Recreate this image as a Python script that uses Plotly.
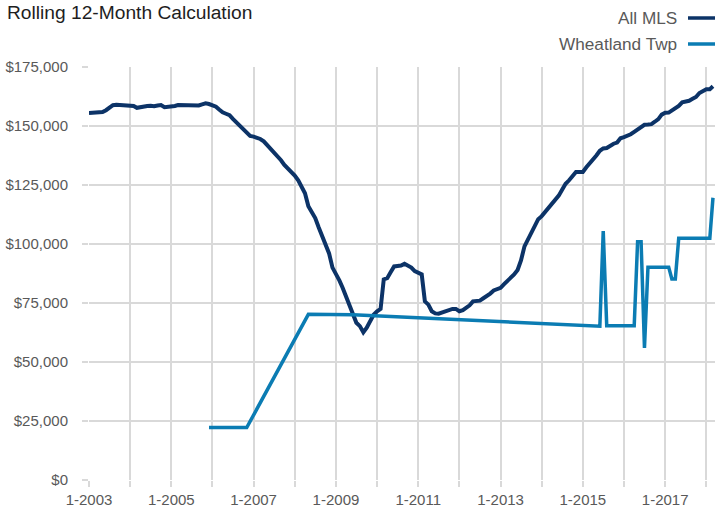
import pandas as pd
import plotly.graph_objects as go

# ---------------- data ----------------
start_month = "2003-01-01"
all_mls = [
    155.5, 155.5, 155.6, 155.7, 155.9, 156.7, 157.8, 158.8, 159.0, 158.9, 158.8, 158.9,  # 2003
    158.9, 158.5, 157.7, 158.0, 158.6, 158.5, 158.6, 158.4, 158.7, 158.9, 158.0, 158.1,  # 2004
    158.3, 158.5, 158.9, 158.9, 158.8, 158.9, 158.7, 158.6, 158.7, 159.2, 159.6, 159.3,  # 2005
    158.9, 158.2, 157.0, 155.8, 155.2, 154.6, 153.0, 151.5, 150.2, 148.6, 147.0, 145.8,  # 2006
    145.5, 145.0, 144.5, 143.5, 142.0, 140.5, 139.0, 137.0, 135.5, 133.5, 132.0, 130.8,  # 2007
    129.0, 127.0, 124.0, 121.5, 116.0, 113.5, 111.0, 107.0, 103.0, 100.0, 96.0, 90.0,    # 2008
    87.5, 84.5, 81.5, 77.5, 74.5, 70.5, 66.6, 65.2, 62.6, 64.5, 67.5, 70.0,             # 2009
    71.5, 72.5, 85.0, 85.5, 88.0, 90.5, 90.7, 90.9, 91.6, 91.0, 90.0, 88.5,             # 2010
    88.0, 87.1, 75.7, 74.3, 71.5, 70.6, 70.5, 71.0, 71.8, 72.3, 72.5, 72.5,             # 2011
    71.5, 72.0, 72.9, 74.0, 75.7, 75.9, 76.0, 77.0, 77.9, 79.0, 80.3, 80.9,             # 2012
    81.4, 83.0, 84.2, 85.5, 87.1, 89.0, 93.0, 99.0, 101.9, 105.5, 108.5, 110.5,         # 2013
    111.8, 113.5, 115.5, 117.0, 118.5, 120.5, 123.0, 125.5, 127.0, 128.5, 130.5, 130.5, # 2014
    130.5, 132.5, 134.0, 135.5, 137.5, 139.5, 140.5, 140.7, 141.8, 142.5, 143.0, 144.8, # 2015
    145.3, 145.8, 146.5, 147.5, 148.5, 149.3, 150.5, 150.6, 150.8, 151.8, 152.9, 154.8, # 2016
    155.6, 155.7, 156.5, 157.5, 158.5, 160.0, 160.3, 160.7, 161.5, 162.3, 164.0, 165.0, # 2017
    165.6, 165.6, 166.8,                                                                 # 2018
]
all_mls = [v * 1000 for v in all_mls]
all_mls_dates = pd.date_range(start_month, periods=len(all_mls), freq="MS")

wheat_dates = ["2005-12-01", "2006-11-01", "2008-05-01", "2009-06-01",
               "2015-06-01", "2015-07-01", "2015-08-01",
               "2016-04-01", "2016-05-01", "2016-06-01", "2016-07-01", "2016-08-01",
               "2017-02-01", "2017-03-01", "2017-04-01", "2017-05-01",
               "2018-02-01", "2018-03-01"]
wheat_values = [22200, 22200, 70200, 70000,
                65200, 105500, 65400,
                65400, 101000, 101000, 56000, 90200,
                90200, 85200, 85200, 102400,
                102400, 119600]

x_tickvals = ["2003-01-01", "2005-01-01", "2007-01-01", "2009-01-01",
              "2011-01-01", "2013-01-01", "2015-01-01", "2017-01-01"]
x_ticktext = ["1-2003", "1-2005", "1-2007", "1-2009",
              "1-2011", "1-2013", "1-2015", "1-2017"]

series_names = ["All MLS", "Wheatland Twp"]
series_colors = ["#0c3367", "#0b7cb3"]

# ---------------- figure ----------------
W, H = 715, 515
ML, MR, MT, MB = 89, 0, 67, 35
grid = "#d9d9d9"
tick_font = dict(family="Liberation Sans, Arial, sans-serif", size=15, color="#595959")

fig = go.Figure()
fig.add_trace(go.Scatter(x=all_mls_dates, y=all_mls, mode="lines", name=series_names[0],
                         line=dict(color=series_colors[0], width=4), showlegend=False))
fig.add_trace(go.Scatter(x=wheat_dates, y=wheat_values, mode="lines", name=series_names[1],
                         line=dict(color=series_colors[1], width=3.5), showlegend=False))

fig.update_layout(
    width=W, height=H, autosize=False,
    margin=dict(l=ML, r=MR, t=MT, b=MB, pad=0),
    paper_bgcolor="white", plot_bgcolor="white",
    title=dict(text="Rolling 12-Month Calculation", xref="container", yref="container",
               x=7 / W, xanchor="left", y=1 - 12 / H, yanchor="middle",
               font=dict(family="Liberation Sans, Arial, sans-serif", size=19.2, color="#1e1e1e")),
    xaxis=dict(
        type="date", range=["2003-01-01", "2018-03-19"],
        tickmode="array", tickvals=x_tickvals, ticktext=x_ticktext,
        showgrid=True, gridcolor=grid, gridwidth=1.5,
        ticks="outside", ticklen=6, tickcolor=grid, tickwidth=1.5,
        minor=dict(tickmode="linear", tick0="2003-01-01", dtick="M12",
                   showgrid=True, gridcolor=grid, gridwidth=1.5,
                   ticks="outside", ticklen=6, tickcolor=grid, tickwidth=1.5),
        showline=False, zeroline=False, tickfont=tick_font, fixedrange=True,
    ),
    yaxis=dict(
        range=[0, 175000], dtick=25000, tick0=0,
        tickprefix="$", tickformat=",",
        showgrid=True, gridcolor=grid, gridwidth=1.5,
        ticks="outside", ticklen=6, tickcolor=grid, tickwidth=1.5,
        ticklabelstandoff=11,
        showline=False, zeroline=False, tickfont=tick_font, fixedrange=True,
    ),
)

# legend (text on the left, line sample on the right)
pw = W - ML - MR
ph = H - MT - MB
def px_x(x):
    return (x - ML) / pw
def px_y(y):
    return (H - MB - y) / ph

legend_rows = [18, 44]
for name, color, yy in zip(series_names, series_colors, legend_rows):
    fig.add_annotation(text=name, xref="paper", yref="paper", x=px_x(679), y=px_y(yy),
                       xanchor="right", yanchor="middle", showarrow=False,
                       font=dict(family="Liberation Sans, Arial, sans-serif", size=17.2, color="#595959"))
    fig.add_shape(type="line", xref="paper", yref="paper",
                  x0=px_x(688), x1=px_x(715), y0=px_y(yy), y1=px_y(yy),
                  line=dict(color=color, width=3.5))

post = ("document.documentElement.style.margin='0';document.body.style.margin='0';"
        "document.body.style.overflow='hidden';"
        "var gd=document.getElementById('{plot_id}');"
        "Plotly.relayout(gd,{width:715,height:515});")
fig.write_html("out.html", config={"responsive": False, "displayModeBar": False}, post_script=post)
